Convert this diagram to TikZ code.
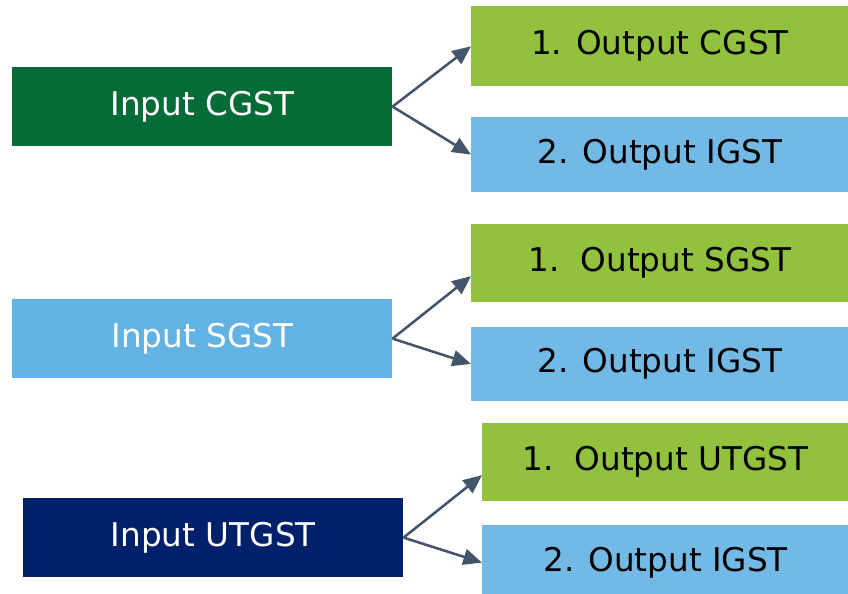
\documentclass[tikz,border=0pt]{standalone}
\usepackage{fontspec}
\setmainfont{DejaVu Sans}
\usetikzlibrary{arrows.meta, calc}
\definecolor{cgstgreen}{HTML}{056B37}
\definecolor{sgstblue}{HTML}{62B3E4}
\definecolor{utnavy}{HTML}{00206A}
\definecolor{outgreen}{HTML}{92C13E}
\definecolor{outblue}{HTML}{72B9E5}
\definecolor{arrowslate}{HTML}{44546A}

\tikzset{
  inbox/.style={anchor=north west, minimum width=285pt, minimum height=59pt,
    inner sep=0pt, text=white},
  outbox/.style={anchor=north west, minimum width=283pt, inner sep=0pt, text=black},
  arr/.style={-{Triangle[length=14pt, width=12pt]}, draw=arrowslate,
    line width=1.9pt}
}

\begin{document}
\begin{tikzpicture}[x=0.75pt, y=-0.75pt, font=\fontsize{24.5}{28}\selectfont]
  \useasboundingbox (0,0) rectangle (848,593);
  \clip (0,0) rectangle (848,593);

  % CGST
  \node[inbox, fill=cgstgreen] (cin) at (12,67) {Input CGST};
  \node[outbox, fill=outgreen, minimum height=60pt] (cout1) at (471,6) {1. Output CGST};
  \node[outbox, fill=outblue, minimum height=56pt] (cout2) at (471,117) {2. Output IGST};
  \draw[arr] (cin.east) -- (cout1.west);
  \draw[arr] (cin.east) -- (cout2.west);

  % SGST
  \node[inbox, fill=sgstblue] (sin) at (12,299) {Input SGST};
  \node[outbox, fill=outgreen, minimum height=58pt] (sout1) at (471,224) {1.\ \ Output SGST};
  \node[outbox, fill=outblue, minimum height=55pt] (sout2) at (471,327) {2. Output IGST};
  \draw[arr] (sin.east) -- ($(sout1.south west)!0.33!(sout1.north west)$);
  \draw[arr] (sin.east) -- (sout2.west);

  % UTGST
  \node[inbox, fill=utnavy] (uin) at (23,498) {Input UTGST};
  \node[outbox, fill=outgreen, minimum height=58pt, minimum width=275pt] (uout1) at (482,423) {1.\ \ Output UTGST};
  \node[outbox, fill=outblue, minimum height=56pt, minimum width=275pt] (uout2) at (482,525) {2. Output IGST};
  \draw[arr] (uin.east) -- ($(uout1.south west)!0.33!(uout1.north west)$);
  \draw[arr] (uin.east) -- (uout2.west);
\end{tikzpicture}
\end{document}
